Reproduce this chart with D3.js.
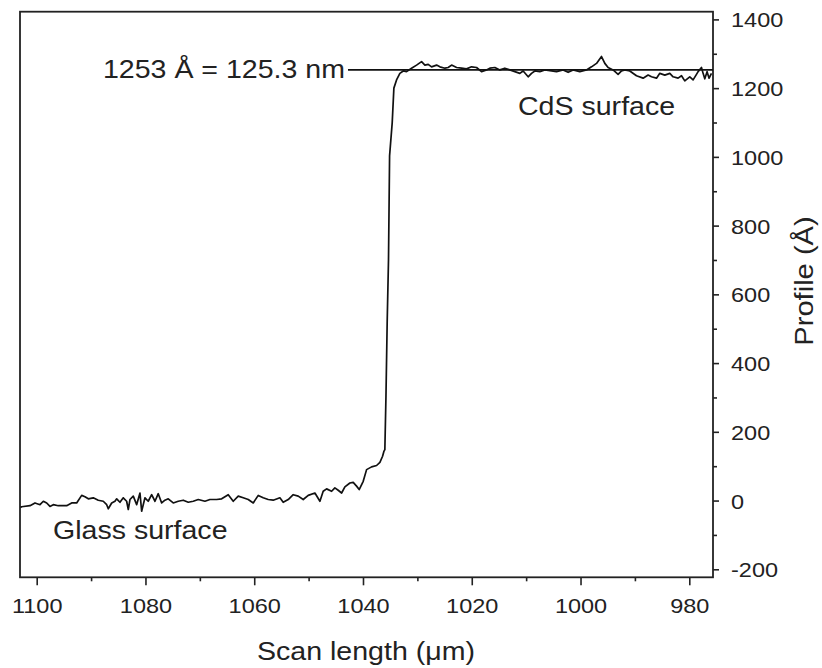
<!DOCTYPE html>
<meta charset="utf-8">
<title>Step height profile - CdS on glass</title>
<script src="https://d3js.org/d3.v7.min.js"></script>
<style>
  body { margin: 0; background: #fff; }
  text { font-family: "Liberation Sans", Arial, Helvetica, sans-serif; fill: #222; }
</style>
<body>
<svg width="822" height="668"></svg>
<script>

// profilometer trace (scan length in um, profile in Angstrom)
var scanLength = [
  1103.0, 1102.76, 1101.23, 1100.31, 1099.39, 1098.78, 1098.16, 1097.56, 1096.95, 1096.03,
  1094.49, 1093.57, 1092.65, 1091.73, 1091.12, 1090.51, 1089.60, 1088.68, 1087.76, 1087.13,
  1086.84, 1086.21, 1085.61, 1085.29, 1084.69, 1084.08, 1083.46, 1083.16, 1082.85, 1082.24,
  1081.62, 1081.01, 1080.70, 1080.09, 1079.49, 1078.86, 1078.25, 1077.65, 1077.02, 1076.42,
  1075.81, 1074.89, 1073.97, 1073.05, 1072.13, 1071.21, 1070.29, 1069.06, 1068.14, 1066.91,
  1065.99, 1064.78, 1063.86, 1062.94, 1062.02, 1061.10, 1060.18, 1059.26, 1058.35, 1057.43,
  1056.51, 1055.28, 1054.67, 1053.75, 1052.83, 1051.91, 1050.99, 1050.07, 1048.84, 1047.92,
  1047.32, 1046.69, 1045.77, 1045.17, 1044.56, 1043.93, 1043.33, 1042.41, 1041.80, 1041.18,
  1040.70, 1039.96, 1039.34, 1038.42, 1037.50, 1036.89, 1036.40, 1036.16, 1035.98,
  1035.78, 1035.55, 1035.31, 1035.11, 1034.63, 1034.32, 1033.83, 1033.22, 1032.60, 1031.99,
  1031.07, 1030.15, 1029.23, 1028.62, 1028.01, 1027.39, 1026.47, 1025.86, 1024.94, 1024.34,
  1023.71, 1022.79, 1021.88, 1020.96, 1020.04, 1019.12, 1018.20, 1017.28, 1016.67, 1015.75,
  1014.83, 1013.92, 1013.00, 1012.08, 1011.16, 1010.55, 1009.63, 1009.01, 1008.40, 1007.48,
  1006.56, 1004.41, 1003.20, 1002.28, 1001.36, 1000.13, 998.90, 997.98, 997.06, 996.14,
  995.53, 994.93, 994.01, 993.09, 992.46, 991.86, 990.94, 989.71, 988.49, 987.57,
  986.95, 986.03, 985.42, 984.50, 983.58, 982.98, 982.06, 981.43, 980.83, 979.91,
  979.30, 978.68, 978.38, 977.76, 977.46, 977.15, 976.73, 976.36, 975.92, 975.63
];
var profile = [
  -20, -18, -15, -7, -12, -2, -7, -17, -12, -15,
  -15, -7, -7, 15, 11, 5, 8, 1, -2, -12,
  -24, -7, -2, 5, -5, 8, -2, -26, 3, 13,
  -12, 22, -31, 8, -2, 17, -2, 20, -7, 1,
  5, -7, -2, 1, -5, -2, 3, -2, 3, 3,
  5, 17, -2, 13, 8, 3, -7, 15, 8, 3,
  1, 8, -5, 3, 17, 13, 3, 15, 22, -2,
  27, 34, 27, 37, 30, 22, 40, 51, 53, 42,
  32, 56, 90, 98, 102, 111, 129, 143, 148,
  300, 520, 700, 1003, 1099, 1200, 1224, 1243, 1250,
  1248, 1258, 1267, 1277, 1267, 1269, 1262, 1267, 1262, 1258,
  1260, 1267, 1260, 1258, 1256, 1262, 1260, 1248, 1253, 1258,
  1260, 1253, 1258, 1253, 1248, 1243, 1250, 1233, 1243, 1250,
  1248, 1253, 1248, 1253, 1246, 1253, 1248, 1253, 1262, 1272,
  1292, 1272, 1260, 1253, 1240, 1250, 1253, 1250, 1236, 1229,
  1238, 1233, 1229, 1243, 1238, 1243, 1233, 1229, 1236, 1221,
  1233, 1224, 1240, 1248, 1260, 1243, 1227, 1248, 1229, 1243
];

var xTicks = [1100, 1080, 1060, 1040, 1020, 1000, 980];
var xMinorTicks = [1090, 1070, 1050, 1030, 1010, 990];
var yTicks = [-200, 0, 200, 400, 600, 800, 1000, 1200, 1400];
var yMinorTicks = [-100, 100, 300, 500, 700, 900, 1100, 1300];

var stepHeight = 1253;
var stepLabel = "1253 Å = 125.3 nm";
var topLabel = "CdS surface";
var bottomLabel = "Glass surface";
var xTitle = "Scan length (μm)";
var yTitle = "Profile (Å)";

var svg = d3.select("svg"),
    margin = {top: 11.7, right: 109, bottom: 90.7, left: 20},
    width = +svg.attr("width") - margin.left - margin.right,
    height = +svg.attr("height") - margin.top - margin.bottom;

// the lettering in the picture is a bit wider than Arial
var stretch = 1.12;

var g = svg.append("g")
    .attr("transform", "translate(" + margin.left + "," + margin.top + ")");

// reversed x axis, as in the profilometer output
var x = d3.scaleLinear().domain([1103.07, 975.64]).range([0, width]);
var y = d3.scaleLinear().domain([-223.3, 1422.4]).range([height, 0]);

var data = scanLength.map(function(d, i) { return {x: d, y: profile[i]}; });

// plain hyphen for negatives, like the original
var plain = function(d) { return String(d); };

// minor ticks first
g.append("g")
    .attr("class", "axis")
    .attr("transform", "translate(0," + height + ")")
    .call(d3.axisBottom(x).tickValues(xMinorTicks).tickSize(4).tickFormat(""));

g.append("g")
    .attr("class", "axis")
    .attr("transform", "translate(" + width + ",0)")
    .call(d3.axisRight(y).tickValues(yMinorTicks).tickSize(4).tickFormat(""));

var xAxis = g.append("g")
    .attr("class", "axis")
    .attr("transform", "translate(0," + height + ")")
    .call(d3.axisBottom(x).tickValues(xTicks).tickSize(8).tickFormat(plain));

xAxis.selectAll("text")
    .attr("y", 35.7)
    .attr("dy", 0)
    .attr("transform", "scale(" + stretch + ",1)");

var yAxis = g.append("g")
    .attr("class", "axis")
    .attr("transform", "translate(" + width + ",0)")
    .call(d3.axisRight(y).tickValues(yTicks).tickSize(6).tickFormat(plain));

yAxis.selectAll("text")
    .attr("x", 18 / stretch)
    .attr("dy", "0.36em")
    .attr("transform", "scale(" + stretch + ",1)");

g.selectAll(".axis path.domain").remove();
g.selectAll(".axis line").attr("stroke", "#222").attr("stroke-width", 1.6);
g.selectAll(".axis text").style("font-size", "21px").attr("fill", "#222");

// frame
g.append("rect")
    .attr("width", width)
    .attr("height", height)
    .attr("fill", "none")
    .attr("stroke", "#222")
    .attr("stroke-width", 1.8);

// annotation: thickness level
var labelX = 345 - margin.left;
var labelY = y(stepHeight) + 8.5;

g.append("text")
    .attr("transform", "translate(" + labelX + "," + labelY + ") scale(" + stretch + ",1)")
    .attr("text-anchor", "end")
    .style("font-size", "25.5px")
    .text(stepLabel);

g.append("line")
    .attr("x1", labelX + 3)
    .attr("x2", width)
    .attr("y1", y(stepHeight))
    .attr("y2", y(stepHeight))
    .attr("stroke", "#111")
    .attr("stroke-width", 1.8);

// profile trace
var line = d3.line()
    .x(function(d) { return x(d.x); })
    .y(function(d) { return y(d.y); });

g.append("path")
    .datum(data)
    .attr("fill", "none")
    .attr("stroke", "#111")
    .attr("stroke-width", 1.7)
    .attr("stroke-linejoin", "round")
    .attr("d", line);

g.append("text")
    .attr("transform", "translate(" + (518 - margin.left) + "," + (115 - margin.top) + ") scale(" + stretch + ",1)")
    .style("font-size", "25.5px")
    .text(topLabel);

g.append("text")
    .attr("transform", "translate(" + (53 - margin.left) + "," + (539.3 - margin.top) + ") scale(" + stretch + ",1)")
    .style("font-size", "25.5px")
    .text(bottomLabel);

// axis titles
svg.append("text")
    .attr("transform", "translate(" + 366 + "," + 660 + ") scale(" + stretch + ",1)")
    .attr("text-anchor", "middle")
    .style("font-size", "25.5px")
    .text(xTitle);

svg.append("text")
    .attr("transform", "translate(" + 813 + "," + 281 + ") rotate(-90) scale(" + stretch + ",1)")
    .attr("text-anchor", "middle")
    .style("font-size", "26px")
    .text(yTitle);

</script>
</body>
